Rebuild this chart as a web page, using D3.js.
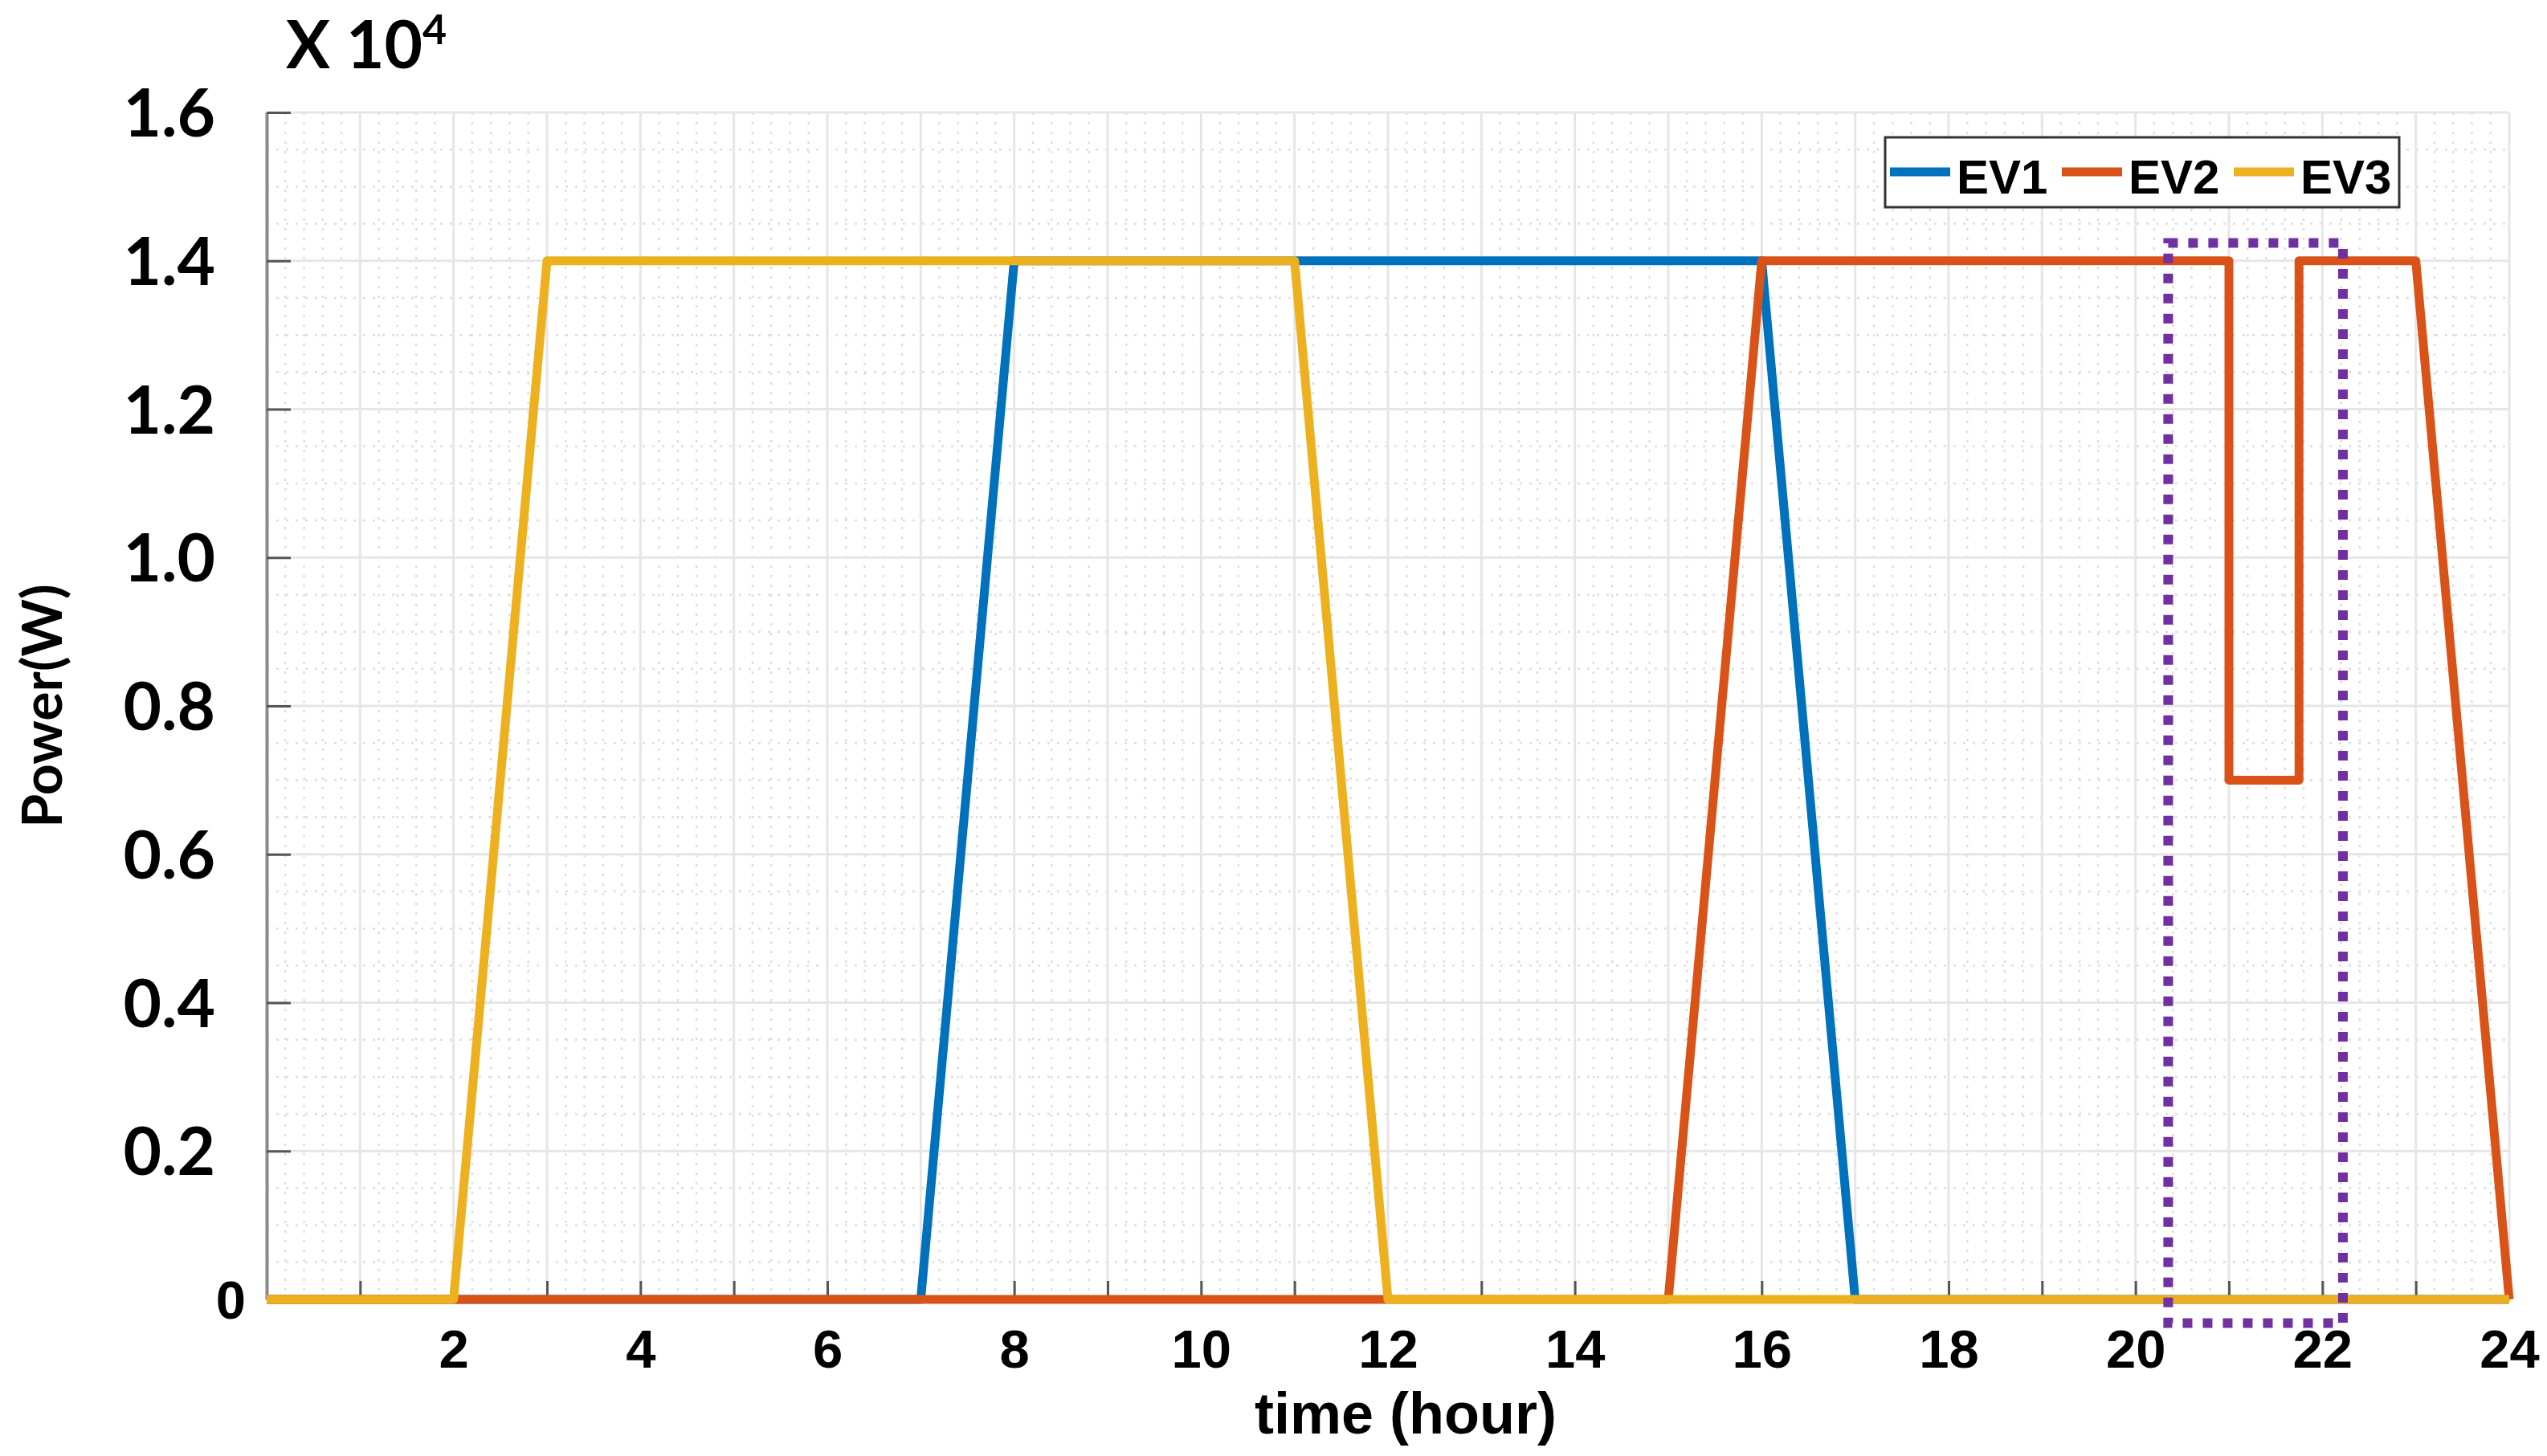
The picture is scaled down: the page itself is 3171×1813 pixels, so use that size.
<!DOCTYPE html>
<html>
<head>
<meta charset="utf-8">
<script src="https://cdn.jsdelivr.net/npm/d3@7"></script>
<style>
  html, body { margin: 0; padding: 0; background: #fff; }
  #chart { width: 3171px; height: 1813px; }
</style>
</head>
<body>
<div id="chart"></div>
<script>
// power values are in units of 10^4 W
const ev1Time = [0, 7, 8, 16, 17, 24];
const ev1Power = [0, 0, 1.4, 1.4, 0, 0];
const ev2Time = [0, 15, 16, 21, 21, 21.75, 21.75, 23, 24];
const ev2Power = [0, 0, 1.4, 1.4, 0.7, 0.7, 1.4, 1.4, 0];
const ev3Time = [0, 2, 3, 11, 12, 24];
const ev3Power = [0, 0, 1.4, 1.4, 0, 0];

const seriesNames = ["EV1", "EV2", "EV3"];
const seriesColors = ["#0072BD", "#D95319", "#EDB120"];

const xTicks = [1, 2, 3, 4, 5, 6, 7, 8, 9, 10, 11, 12, 13, 14, 15, 16, 17, 18, 19, 20, 21, 22, 23, 24];
const yTicks = [0.2, 0.4, 0.6, 0.8, 1.0, 1.2, 1.4, 1.6];

// dotted box around the EV2 dip
const boxTime = [20.35, 22.22];
const boxPower = [-0.032, 1.424];

(function () {
  const width = 3171;
  const height = 1813;

  const margin = { top: 140, bottom: 195, left: 332, right: 47 };
  const plotWidth = width - margin.left - margin.right;
  const plotHeight = height - margin.top - margin.bottom;

  const svg = d3.select("#chart").append("svg").attr("width", width).attr("height", height);
  const g = svg.append("g").attr("transform", `translate(${margin.left}, ${margin.top})`);

  const xScale = d3.scaleLinear().domain([0, 24]).range([0, plotWidth]);
  const yScale = d3.scaleLinear().domain([0, 1.6]).range([plotHeight, 0]);

  // grid, minor dotted then major solid
  const minorX = d3.range(0, 121).filter(i => i % 5 !== 0).map(i => i / 5);
  const minorY = d3.range(0, 33).filter(i => i % 4 !== 0).map(i => i / 20);

  g.selectAll(".minorX")
    .data(minorX)
    .join("line")
    .attr("class", "minorX")
    .attr("x1", d => xScale(d))
    .attr("x2", d => xScale(d))
    .attr("y1", 0)
    .attr("y2", plotHeight)
    .attr("stroke", "#dedede")
    .attr("stroke-width", 2.5)
    .attr("stroke-dasharray", "3 9");

  g.selectAll(".minorY")
    .data(minorY)
    .join("line")
    .attr("class", "minorY")
    .attr("x1", 0)
    .attr("x2", plotWidth)
    .attr("y1", d => yScale(d))
    .attr("y2", d => yScale(d))
    .attr("stroke", "#dedede")
    .attr("stroke-width", 2.5)
    .attr("stroke-dasharray", "3 9");

  g.selectAll(".majorX")
    .data(xTicks)
    .join("line")
    .attr("class", "majorX")
    .attr("x1", d => xScale(d))
    .attr("x2", d => xScale(d))
    .attr("y1", 0)
    .attr("y2", plotHeight)
    .attr("stroke", "#e6e6e6")
    .attr("stroke-width", 3);

  g.selectAll(".majorY")
    .data(yTicks)
    .join("line")
    .attr("class", "majorY")
    .attr("x1", 0)
    .attr("x2", plotWidth)
    .attr("y1", d => yScale(d))
    .attr("y2", d => yScale(d))
    .attr("stroke", "#e6e6e6")
    .attr("stroke-width", 3);

  // axes
  const xAxis = g
    .append("g")
    .attr("transform", `translate(0, ${plotHeight})`)
    .call(
      d3.axisBottom(xScale)
        .tickValues(xTicks)
        .tickSizeInner(-23)
        .tickSizeOuter(0)
        .tickFormat(d => (d % 2 === 0 ? d : ""))
    );

  xAxis.select(".domain").attr("stroke", "#8a8a8a").attr("stroke-width", 4);
  xAxis.selectAll(".tick line").attr("stroke", "#555").attr("stroke-width", 3);
  xAxis
    .selectAll(".tick text")
    .attr("y", 85)
    .attr("dy", null)
    .attr("fill", "#000")
    .attr("font-family", "'Liberation Sans', Arial, sans-serif")
    .attr("font-weight", "bold")
    .attr("font-size", "67px");

  const yAxis = g
    .append("g")
    .call(
      d3.axisLeft(yScale)
        .tickValues(yTicks)
        .tickSizeInner(-30)
        .tickSizeOuter(0)
        .tickFormat(d3.format(".1f"))
    );

  yAxis.select(".domain").attr("stroke", "#8a8a8a").attr("stroke-width", 4);
  yAxis.selectAll(".tick line").attr("stroke", "#555").attr("stroke-width", 3);
  yAxis
    .selectAll(".tick text")
    .attr("x", -64)
    .attr("dy", "0.36em")
    .attr("fill", "#000")
    .attr("font-family", "Lato, 'Open Sans', sans-serif")
    .attr("font-weight", "bold")
    .attr("font-size", "82px");

  // the zero label sits closer to the axis, in the x label font
  g.append("text")
    .attr("x", -26)
    .attr("y", yScale(0))
    .attr("dy", "0.36em")
    .attr("text-anchor", "end")
    .attr("font-family", "'Liberation Sans', Arial, sans-serif")
    .attr("font-weight", "bold")
    .attr("font-size", "67px")
    .text("0");

  // data lines
  const series = [
    { name: seriesNames[0], color: seriesColors[0], values: ev1Time.map((t, i) => [t, ev1Power[i]]) },
    { name: seriesNames[1], color: seriesColors[1], values: ev2Time.map((t, i) => [t, ev2Power[i]]) },
    { name: seriesNames[2], color: seriesColors[2], values: ev3Time.map((t, i) => [t, ev3Power[i]]) },
  ];

  const line = d3
    .line()
    .x(d => xScale(d[0]))
    .y(d => yScale(d[1]));

  g.selectAll(".ev")
    .data(series)
    .join("path")
    .attr("class", "ev")
    .attr("d", d => line(d.values))
    .attr("fill", "none")
    .attr("stroke", d => d.color)
    .attr("stroke-width", 11)
    .attr("stroke-linejoin", "round");

  // highlight box
  g.append("rect")
    .attr("x", xScale(boxTime[0]))
    .attr("y", yScale(boxPower[1]))
    .attr("width", xScale(boxTime[1]) - xScale(boxTime[0]))
    .attr("height", yScale(boxPower[0]) - yScale(boxPower[1]))
    .attr("fill", "none")
    .attr("stroke", "#7030A0")
    .attr("stroke-width", 12)
    .attr("stroke-dasharray", "12 13");

  // legend
  const legend = svg.append("g").attr("transform", "translate(2347, 171)");
  legend
    .append("rect")
    .attr("width", 640)
    .attr("height", 87)
    .attr("fill", "#fff")
    .attr("stroke", "#333")
    .attr("stroke-width", 3);

  const items = legend
    .selectAll(".legendItem")
    .data(series)
    .join("g")
    .attr("class", "legendItem")
    .attr("transform", (d, i) => `translate(${6 + i * 214}, 0)`);

  items
    .append("line")
    .attr("x1", 0)
    .attr("x2", 75)
    .attr("y1", 43)
    .attr("y2", 43)
    .attr("stroke", d => d.color)
    .attr("stroke-width", 11);

  items
    .append("text")
    .attr("x", 83)
    .attr("y", 70)
    .attr("font-family", "'Liberation Sans', Arial, sans-serif")
    .attr("font-weight", "bold")
    .attr("font-size", "60px")
    .text(d => d.name);

  // axis titles
  svg
    .append("text")
    .attr("x", 1750)
    .attr("y", 1785)
    .attr("text-anchor", "middle")
    .attr("font-family", "'Liberation Sans', Arial, sans-serif")
    .attr("font-weight", "bold")
    .attr("font-size", "72px")
    .text("time (hour)");

  svg
    .append("text")
    .attr("transform", "translate(77, 879) rotate(-90)")
    .attr("text-anchor", "middle")
    .attr("font-family", "Lato, 'Open Sans', sans-serif")
    .attr("font-weight", "bold")
    .attr("font-size", "68px")
    .text("Power(W)");

  const expo = svg
    .append("text")
    .attr("x", 356)
    .attr("y", 85)
    .attr("font-family", "Lato, 'Open Sans', sans-serif")
    .attr("font-weight", "bold")
    .attr("font-size", "82px");
  expo.append("tspan").text("X 10");
  expo.append("tspan").attr("font-size", "52px").attr("dy", "-30").text("4");
})();
</script>
</body>
</html>
